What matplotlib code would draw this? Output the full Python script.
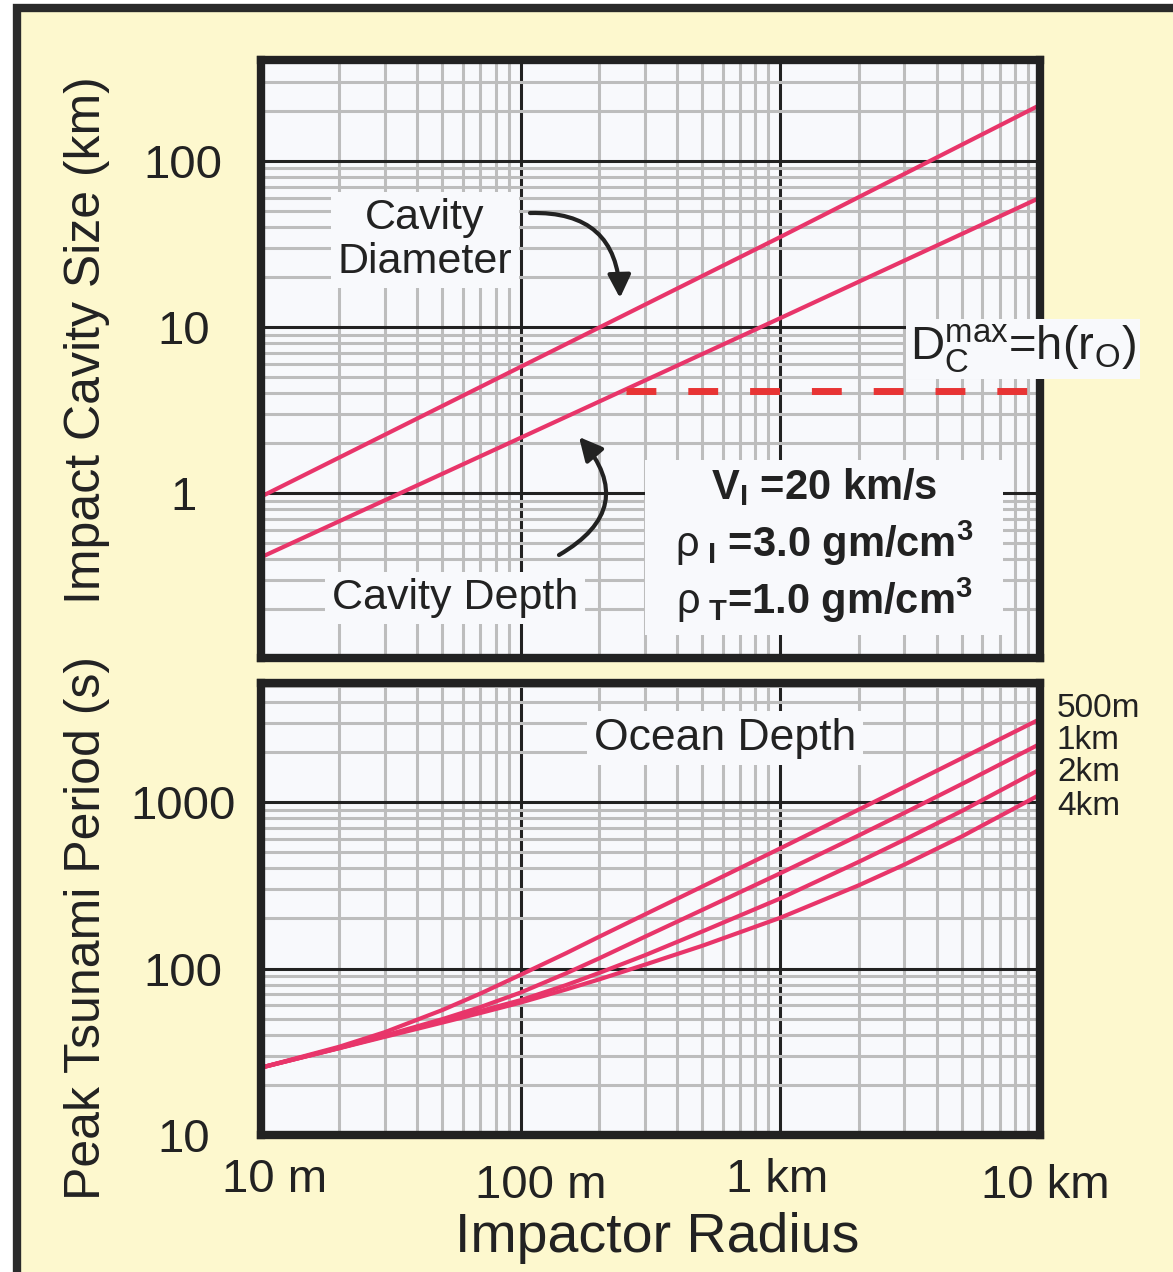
import matplotlib
matplotlib.use("Agg")
import matplotlib.pyplot as plt
import numpy as np
from matplotlib.patches import Rectangle
from matplotlib.ticker import LogLocator, NullFormatter, FixedLocator, FixedFormatter

plt.rcParams['font.family'] = ['Liberation Sans', 'DejaVu Sans']
plt.rcParams['mathtext.fontset'] = 'custom'
plt.rcParams['mathtext.rm'] = 'Liberation Sans'
plt.rcParams['mathtext.bf'] = 'Liberation Sans:bold'
plt.rcParams['mathtext.it'] = 'Liberation Sans:italic'

# top panel: cavity size (km) vs impactor radius (m)
radius_top = [10, 100, 1000, 10000]
cavity_diameter = [0.95, 5.75, 34.8, 217]
cavity_depth = [0.41, 2.15, 11.3, 60]
max_radius = [254, 10000]
max_depth = [4.1, 4.1]

# bottom panel: peak tsunami period (s) for 4 ocean depths
radius_bot = [10, 20, 30, 50, 70, 100, 150, 200, 300, 500, 1000, 2000, 3000, 5000, 10000]
period_500m = [25.4, 33.9, 41.5, 56.4, 70.8, 91.8, 124, 155, 211, 311, 528, 901, 1234, 1837, 3157]
period_1km = [25.4, 33.4, 39.6, 49.7, 58.7, 71.8, 93.8, 115, 155, 225, 374, 630, 861, 1285, 2239]
period_2km = [25.4, 33.3, 39.3, 48.4, 55.6, 64.6, 79.7, 94, 120, 167, 264, 437, 594, 885, 1574]
period_4km = [25.4, 33.2, 38.9, 47.4, 54.1, 62.5, 75, 86, 105.4, 137, 202, 316, 421, 622, 1110]
depth_labels = ['500m', '1km', '2km', '4km']

x_ticks = [10, 100, 1000, 10000]
x_ticklabels = ['10 m', '100 m', '1 km', '10 km']

cream = '#FDF8CE'
ink = '#222222'
pink = '#E8356A'
red = '#E83434'
face = '#F8F9FC'

fig = plt.figure(figsize=(11.73, 12.72), dpi=100)
fig.patch.set_facecolor('white')
frame = Rectangle((17 / 1173, -0.05), 1.1, 1 - 8 / 1272 + 0.05,
                  transform=fig.transFigure, fc=cream, ec='#2a2a2a', lw=6, zorder=-10)
fig.add_artist(frame)

ax1 = fig.add_axes([261 / 1173, 1 - 658 / 1272, 779 / 1173, 598 / 1272])
ax2 = fig.add_axes([261 / 1173, 1 - 1135 / 1272, 779 / 1173, 452 / 1272])


def style(ax, ylim, yticks):
    ax.set_facecolor(face)
    ax.set_xscale('log')
    ax.set_yscale('log')
    ax.set_xlim(10, 10000)
    ax.set_ylim(*ylim)
    ax.set_axisbelow(True)
    for a in (ax.xaxis, ax.yaxis):
        a.set_minor_locator(LogLocator(base=10, subs=np.arange(2, 10), numticks=100))
        a.set_minor_formatter(NullFormatter())
    ax.yaxis.set_major_locator(FixedLocator(yticks))
    ax.yaxis.set_major_formatter(FixedFormatter([str(t) for t in yticks]))
    ax.xaxis.set_major_locator(FixedLocator(x_ticks))
    ax.xaxis.set_major_formatter(NullFormatter())
    ax.grid(which='minor', color='#BDBDBD', lw=2.2)
    ax.grid(which='major', color=ink, lw=2.2)
    ax.tick_params(which='both', length=0)
    ax.tick_params(axis='y', labelsize=34, pad=56, colors=ink)
    for lab in ax.get_yticklabels():
        lab.set_horizontalalignment('center')
    for s in ax.spines.values():
        s.set_linewidth(6)
        s.set_color(ink)
        s.set_zorder(5)


style(ax1, (0.1014, 405), [1, 10, 100])
style(ax2, (10, 5200), [10, 100, 1000])

# x tick labels, slightly staggered as in the original
offsets = [(14, -45), (20, -51), (-3, -45), (5, -51)]
for t, lab, (dx, dy) in zip(x_ticks, x_ticklabels, offsets):
    ax2.annotate(lab, xy=(t, 0), xycoords=ax2.get_xaxis_transform(),
                 xytext=(dx, dy), textcoords='offset pixels', fontsize=34,
                 ha='center', va='center', color=ink, annotation_clip=False)

# top panel lines
ax1.plot(radius_top, cavity_diameter, color=pink, lw=3, zorder=4)
ax1.plot(radius_top, cavity_depth, color=pink, lw=3, zorder=4)
ax1.plot(max_radius, max_depth, color=red, lw=5, ls=(0, (4.3, 4.6)), zorder=4)

ax1.set_ylabel('Impact Cavity Size (km)', fontsize=36, color=ink, va='center')
ax1.yaxis.set_label_coords(-0.2234, 0.532)

box = dict(boxstyle='square,pad=0.15', fc=face, ec='none')
ax1.text(0.2105, 0.699, 'Cavity\nDiameter', transform=ax1.transAxes, fontsize=31,
         ha='center', va='center', linespacing=1.1, color=ink, bbox=box, zorder=3)
ax1.annotate('', xy=(0.4608, 0.602), xytext=(0.3453, 0.7441),
             xycoords='axes fraction', textcoords='axes fraction',
             arrowprops=dict(arrowstyle='-|>', connectionstyle='arc3,rad=-0.5',
                             lw=3, color=ink, mutation_scale=35, shrinkA=0, shrinkB=0),
             zorder=4)
ax1.text(0.249, 0.1003, 'Cavity Depth', transform=ax1.transAxes, fontsize=31,
         ha='center', va='center', color=ink, bbox=box, zorder=3)
ax1.annotate('', xy=(0.4082, 0.3696), xytext=(0.3825, 0.1722),
             xycoords='axes fraction', textcoords='axes fraction',
             arrowprops=dict(arrowstyle='-|>', connectionstyle='arc3,rad=0.6',
                             lw=3, color=ink, mutation_scale=35, shrinkA=0, shrinkB=0),
             zorder=4)

# parameter block
ax1.add_patch(Rectangle(((645 - 261) / 779, (658 - 635) / 598), 358 / 779, 175 / 598,
                        transform=ax1.transAxes, fc=face, ec='none', zorder=3))
params = [r'V$_{\mathbf{I}}$ =20 km/s',
          r'$\mathrm{ρ}_{\ \mathbf{I}}$ =3.0 gm/cm$^{\mathbf{3}}$',
          r'$\mathrm{ρ}_{\ \mathbf{T}}$=1.0 gm/cm$^{\mathbf{3}}$']
for txt, py in zip(params, [487, 543, 600]):
    ax1.text((824 - 261) / 779, (658 - py) / 598, txt, transform=ax1.transAxes,
             fontsize=30, fontweight='bold', ha='center', va='center', color=ink, zorder=4)

ax1.text(0.978, 0.5167, r'D$_{\mathrm{C}}^{\mathrm{max}}$=h(r$_{\mathrm{O}}$)',
         transform=ax1.transAxes, fontsize=34, ha='center', va='center', color=ink,
         bbox=dict(boxstyle='square,pad=0.08', fc=face, ec='none'), zorder=6, clip_on=False)

# bottom panel lines
for series in (period_500m, period_1km, period_2km, period_4km):
    ax2.plot(radius_bot, series, color=pink, lw=3, zorder=4)

for lab, py in zip(depth_labels, [708, 740, 772, 806]):
    ax2.text(1.0218, (1135 - py) / 452, lab, transform=ax2.transAxes, fontsize=24,
             ha='left', va='center', color=ink, clip_on=False)

ax2.text(0.5956, 0.878, 'Ocean Depth', transform=ax2.transAxes, fontsize=32,
         ha='center', va='center', color=ink, bbox=box, zorder=3)

ax2.set_ylabel('Peak Tsunami Period (s)', fontsize=36, color=ink, va='center')
ax2.yaxis.set_label_coords(-0.2234, 0.458)
ax2.set_xlabel('Impactor Radius', fontsize=40, color=ink, va='center')
ax2.xaxis.set_label_coords((657 - 261) / 779, -(1238 - 1135) / 452)

fig.savefig('out.png', dpi=100, facecolor=fig.get_facecolor())
